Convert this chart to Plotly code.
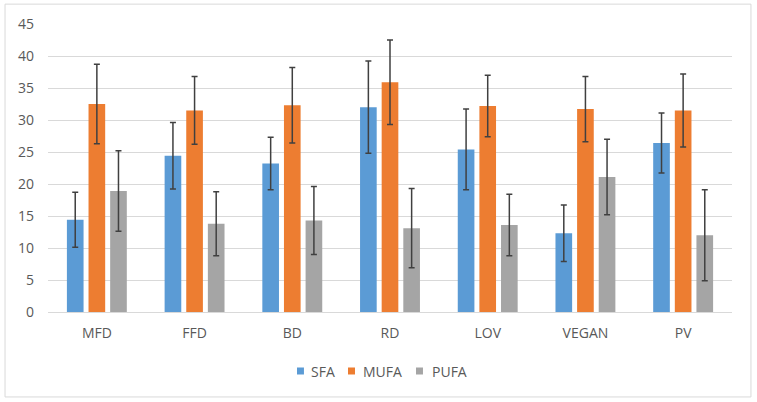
import plotly.graph_objects as go

categories = ["MFD", "FFD", "BD", "RD", "LOV", "VEGAN", "PV"]
sfa = [14.4, 24.4, 23.2, 32.0, 25.4, 12.3, 26.4]
sfa_err = [4.3, 5.2, 4.1, 7.2, 6.3, 4.4, 4.7]
mufa = [32.5, 31.5, 32.3, 35.9, 32.2, 31.7, 31.5]
mufa_err = [6.2, 5.3, 5.9, 6.6, 4.8, 5.1, 5.7]
pufa = [18.9, 13.8, 14.3, 13.1, 13.6, 21.1, 12.0]
pufa_err = [6.3, 5.0, 5.3, 6.2, 4.8, 5.9, 7.1]

series_names = ["SFA", "MUFA", "PUFA"]
series_colors = ["#5B9BD5", "#ED7D31", "#A5A5A5"]
series_vals = [sfa, mufa, pufa]
series_errs = [sfa_err, mufa_err, pufa_err]

fig = go.Figure()
for name, vals, errs, col in zip(series_names, series_vals, series_errs, series_colors):
    fig.add_trace(go.Bar(
        x=categories, y=vals, name=name, marker=dict(color=col, line=dict(width=0)),
        error_y=dict(type="data", array=errs, visible=True, color="#404040", thickness=1.5, width=3),
    ))

# custom legend (square swatch + label) positioned below the plot area
legend_sq_x = [0.3640, 0.4386, 0.5380]
legend_txt_x = [0.3816, 0.4576, 0.5585]
shapes = [dict(type="rect", xref="paper", yref="paper",
               x0=-0.0628, x1=1.0277, y0=-0.295, y1=1.069,
               line=dict(color="#D9D9D9", width=1), fillcolor="rgba(0,0,0,0)")]
annotations = []
for name, col, sx, tx in zip(series_names, series_colors, legend_sq_x, legend_txt_x):
    shapes.append(dict(type="rect", xref="paper", yref="paper",
                       x0=sx, x1=sx + 0.0102, y0=-0.2170, y1=-0.1927,
                       line=dict(width=0), fillcolor=col))
    annotations.append(dict(text=name, xref="paper", yref="paper", x=tx, y=-0.2049,
                            xanchor="left", yanchor="middle", showarrow=False,
                            font=dict(size=14, color="#595959")))

font_family = "'Open Sans', sans-serif"
fig.update_layout(
    width=757, height=402,
    margin=dict(l=48, r=25, t=24, b=90),
    paper_bgcolor="white", plot_bgcolor="white",
    barmode="group", bargap=0.336, bargroupgap=0.23,
    font=dict(family=font_family, size=14, color="#595959"),
    showlegend=False,
    xaxis=dict(showgrid=False, showline=True, linecolor="#D9D9D9", linewidth=1,
               ticks="", ticklabelstandoff=8, tickfont=dict(size=14, color="#595959")),
    yaxis=dict(range=[0, 45], dtick=5, showgrid=True, gridcolor="#D9D9D9", gridwidth=1,
               zeroline=False, showline=False, ticks="", ticklabelstandoff=13,
               tickfont=dict(size=14, color="#595959")),
    shapes=shapes,
    annotations=annotations,
)

fig.write_html("out.html", config={"displayModeBar": False},
               post_script="document.body.style.margin='0px';document.body.style.overflow='hidden';")
